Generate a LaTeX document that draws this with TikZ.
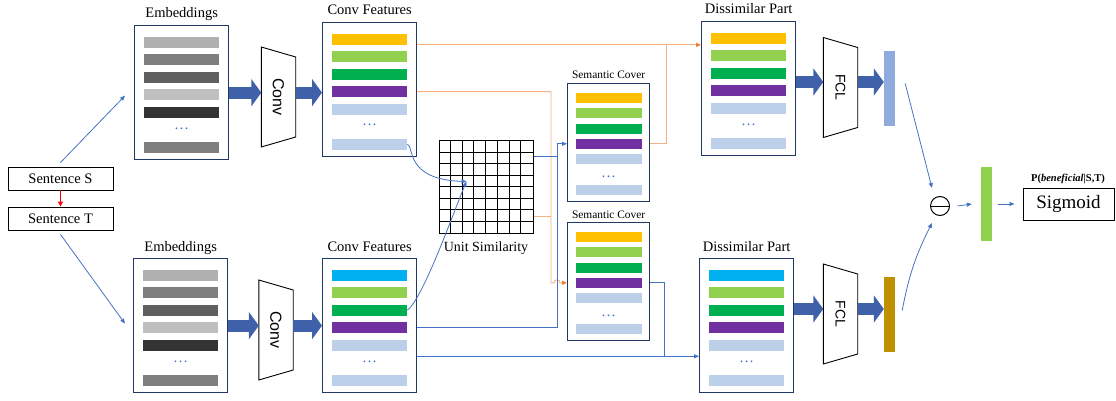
\documentclass[tikz,border=0pt]{standalone}
\usepackage{fontspec}
\setmainfont{Liberation Serif}
\setsansfont{Liberation Sans}
\usetikzlibrary{arrows.meta,calc}

\definecolor{navy}{HTML}{203864}
\definecolor{arrowblue}{HTML}{3F61A9}
\definecolor{lineblue}{HTML}{4472C4}
\definecolor{lineorange}{HTML}{F4B183}
\definecolor{tiporange}{HTML}{ED7D31}
\definecolor{gA}{HTML}{B0B0B0}
\definecolor{gB}{HTML}{7F7F7F}
\definecolor{gC}{HTML}{5F5F5F}
\definecolor{gD}{HTML}{BFBFBF}
\definecolor{gE}{HTML}{333333}
\definecolor{cYel}{HTML}{FFC000}
\definecolor{cLg}{HTML}{92D050}
\definecolor{cGr}{HTML}{00B050}
\definecolor{cPu}{HTML}{7030A0}
\definecolor{cLb}{HTML}{BDD0EA}
\definecolor{cCy}{HTML}{00B0F0}
\definecolor{vecA}{HTML}{8FAADC}
\definecolor{vecB}{HTML}{BF9000}

\tikzset{
  panelbox/.style={draw=navy, line width=1.3pt, fill=white, inner sep=0pt},
  bar/.style={inner sep=0pt, draw=none},
  ttl/.style={font=\fontsize{14.5}{16}\selectfont, anchor=base, inner sep=0pt},
  sttl/.style={font=\fontsize{11.4}{13}\selectfont, anchor=base, inner sep=0pt},
  dotmark/.style={text=lineblue, anchor=base, inner sep=0pt, font=\fontsize{15}{15}\selectfont},
  bigarrow/.style={draw=arrowblue, line width=12pt, -{Triangle[length=10pt,width=27pt]}},
  bline/.style={draw=lineblue, line width=0.8pt},
  oline/.style={draw=lineorange, line width=0.9pt},
  tipb/.style={-{Triangle[length=5pt,width=4pt]}},
  tipo/.style={-{Triangle[length=5pt,width=4pt,color=tiporange]}},
  trapline/.style={draw=black, line width=0.9pt},
  sentbox/.style={draw=black, line width=0.9pt, minimum width=105pt, minimum height=23pt,
                  inner sep=0pt, font=\fontsize{14.5}{16}\selectfont},
  vecbar/.style={inner sep=0pt, minimum width=11pt},
}

% large feature panel: name, left, top, title, six bar colours
\newcommand\bigpanel[5]{%
  \node[panelbox, minimum width=94pt, minimum height=134pt, anchor=north west] (#1) at (#2,#3) {};
  \node[ttl] (#1-title) at ($(#1.north)+(0,-7)$) {#4};
  \foreach \c [count=\i] in {#5}{
    \pgfmathsetmacro\yo{\i<6 ? 11.5+17.5*(\i-1) : 116.5}
    \node[bar, fill=\c, minimum width=75pt, minimum height=11pt, anchor=north] (#1-\i) at ($(#1.north)+(0,\yo)$) {};
  }
  \node[dotmark] (#1-dots) at ($(#1.north)+(0,104)$) {\ldots};
}
% small feature panel (semantic cover)
\newcommand\smallpanel[5]{%
  \node[panelbox, minimum width=82pt, minimum height=118pt, anchor=north west] (#1) at (#2,#3) {};
  \node[sttl] (#1-title) at ($(#1.north)+(0,-4)$) {#4};
  \foreach \c [count=\i] in {#5}{
    \pgfmathsetmacro\yo{\i<6 ? 10+15.2*(\i-1) : 102}
    \node[bar, fill=\c, minimum width=66pt, minimum height=10pt, anchor=north] (#1-\i) at ($(#1.north)+(0,\yo)$) {};
  }
  \node[dotmark] (#1-dots) at ($(#1.north)+(0,94)$) {\ldots};
}
% trapezoid layer: name, centre x, centre y, label, font size
\newcommand\layer[5]{%
  \node[minimum width=34pt, minimum height=100pt, inner sep=0pt] (#1) at (#2,#3) {};
  \draw[trapline] ($(#1.west)+(0,-50)$) -- ($(#1.east)+(0,-40)$) -- ($(#1.east)+(0,40)$) -- ($(#1.west)+(0,50)$) -- cycle;
  \node[rotate=-90, inner sep=0pt, font=\sffamily\fontsize{#5}{#5}\selectfont] (#1-lbl) at (#1) {#4};
}

\begin{document}
\begin{tikzpicture}[x=1pt, y=-1pt]
\useasboundingbox (0,0) rectangle (1116,401);

% ---- inputs
\node[sentbox] (sS) at (60.5,178.5) {Sentence S};
\node[sentbox] (sT) at (60.5,218.5) {Sentence T};
\draw[red, line width=1pt, -{Triangle[length=5pt,width=5pt]}] (sS.south) -- (sT.north);

% ---- embeddings and convolution
\bigpanel{embT}{134}{25}{Embeddings}{gA,gB,gC,gD,gE,gB}
\bigpanel{embB}{133}{258}{Embeddings}{gA,gB,gC,gD,gE,gB}
\layer{convT}{278.5}{97}{Conv}{16}
\layer{convB}{276}{330}{Conv}{16}
\bigpanel{cfT}{322}{22}{Conv Features}{cYel,cLg,cGr,cPu,cLb,cLb}
\bigpanel{cfB}{322}{258}{Conv Features}{cCy,cLg,cGr,cPu,cLb,cLb}

\draw[bline, tipb] ([yshift=4pt]sS.north) -- ([xshift=-9pt,yshift=-3pt]embT.west);
\draw[bline, tipb] ([yshift=-4pt]sT.south) -- ([xshift=-8pt,yshift=2pt]embB.west);

\draw[bigarrow] (embT.east) -- (embT.east -| convT.west);
\draw[bigarrow] (convT.east |- embT.east) -- (cfT.west |- embT.east);
\draw[bigarrow] (embB.east) -- (embB.east -| convB.west);
\draw[bigarrow] (convB.east |- embB.east) -- (cfB.west |- embB.east);

% ---- unit similarity grid
\node[draw=black, line width=1pt, minimum width=94pt, minimum height=92pt, inner sep=0pt] (grid) at (486,187) {};
\foreach \k in {1,...,7}{
  \draw[line width=0.9pt] ($(grid.north west)+(\k*94/8,0)$) -- ($(grid.south west)+(\k*94/8,0)$);
  \draw[line width=0.9pt] ($(grid.north west)+(0,\k*92/8)$) -- ($(grid.north east)+(0,\k*92/8)$);
}
\node[ttl, font=\fontsize{14}{16}\selectfont] (gridlbl) at ($(grid.south)+(0,17.5)$) {Unit Similarity};
\coordinate (gridpt) at ($(grid.north west)+(28,41)$);
\draw[bline, tipb] (cfT-6.east) .. controls +(7,2) and +(-62,-2) .. (gridpt);
\draw[bline, tipb] (cfB-3.east) .. controls +(16,-12) and +(-12,28) .. (gridpt);

% ---- semantic cover and dissimilar parts
\smallpanel{scT}{567}{83}{Semantic Cover}{cYel,cLg,cGr,cPu,cLb,cLb}
\smallpanel{scB}{567}{222}{Semantic Cover}{cYel,cLg,cGr,cPu,cLb,cLb}
\bigpanel{dpT}{701}{21}{Dissimilar Part}{cYel,cLg,cGr,cPu,cLb,cLb}
\bigpanel{dpB}{699}{258}{Dissimilar Part}{cCy,cLg,cGr,cPu,cLb,cLb}

% routing columns
\coordinate (colO) at (551,0);
\coordinate (colB) at (557,0);
\coordinate (colO2) at (666,0);
\coordinate (colB2) at (664,0);
\coordinate (gO) at ($(grid.south east)+(0,-17)$);
\coordinate (gB) at ($(grid.north east)+(0,16)$);
\coordinate (cfBo) at ($(cfB.south east)+(0,-37)$);
\coordinate (cfTo) at (cfT-1.south -| cfT.east);

% orange paths
\draw[oline, tipo] (cfTo) -- (cfTo -| dpT.west);
\draw[oline] (scT-4 -| scT.east) -- (scT-4 -| colO2) -- (colO2 |- cfTo);
\draw[oline] (gO) -- (gO -| colO);
\draw[oline, tipo] (cfT-4 -| cfT.east) -- (cfT-4 -| colO) -- (colO |- scB-4)
   -- ($(colB |- scB-4)+(-3,0)$) arc[start angle=180, end angle=0, radius=3pt]
   -- (scB-4 -| scB.west);

% blue paths
\draw[bline] (gB) -- (gB -| colB);
\draw[bline, tipb] (cfB-4 -| cfB.east) -- (cfB-4 -| colB) -- (colB |- scT-4) -- (scT-4 -| scT.west);
\draw[bline, tipb] (cfBo) -- (cfBo -| dpB.west);
\draw[bline] (scB-4 -| scB.east) -- (scB-4 -| colB2) -- (colB2 |- cfBo);

% ---- fully connected layers and outputs
\layer{fclT}{840.5}{87.5}{FCL}{14}
\layer{fclB}{840.5}{314}{FCL}{14}
\node[vecbar, fill=vecA, minimum height=75pt] (vecT) at (889.5,88.5) {};
\node[vecbar, fill=vecB, minimum height=75pt] (vecB) at (889.5,314.5) {};
\coordinate (aT) at (dpT.east |- 0,82);
\coordinate (aB) at (dpB.east |- 0,309);
\draw[bigarrow] (aT) -- (aT -| fclT.west);
\draw[bigarrow] (fclT.east |- aT) -- (vecT.west |- aT);
\draw[bigarrow] (aB) -- (aB -| fclB.west);
\draw[bigarrow] (fclB.east |- aB) -- (vecB.west |- aB);

\node[draw=black, circle, line width=1pt, minimum size=19pt, inner sep=0pt] (minus) at (940,206) {};
\draw[line width=1pt] (minus.west) -- (minus.east);
\draw[bline, tipb] ([xshift=10pt,yshift=5pt]vecT.east) -- ($(minus)+(-8,-18)$);
\draw[bline, tipb] ([xshift=7pt,yshift=4pt]vecB.east) to[bend left=8] ($(minus)+(-8,17)$);

\node[vecbar, fill=cLg, minimum height=74pt] (vecG) at (986.5,204) {};
\draw[bline, tipb] ([xshift=7.5pt]minus.east) -- ([xshift=-9pt]vecG.west);

\node[draw=black, line width=1pt, minimum width=91pt, minimum height=32pt, inner sep=0pt,
      font=\fontsize{19}{20}\selectfont] (sig) at (1068.5,204) {Sigmoid};
\node[anchor=base, inner sep=0pt, font=\bfseries\fontsize{10.5}{12}\selectfont] (plbl) at (1068,181.5)
     {P(\textit{beneficial}|S,T)};
\draw[bline, tipb] ([xshift=6pt]vecG.east) -- ([xshift=-8pt]sig.west);
\end{tikzpicture}
\end{document}
